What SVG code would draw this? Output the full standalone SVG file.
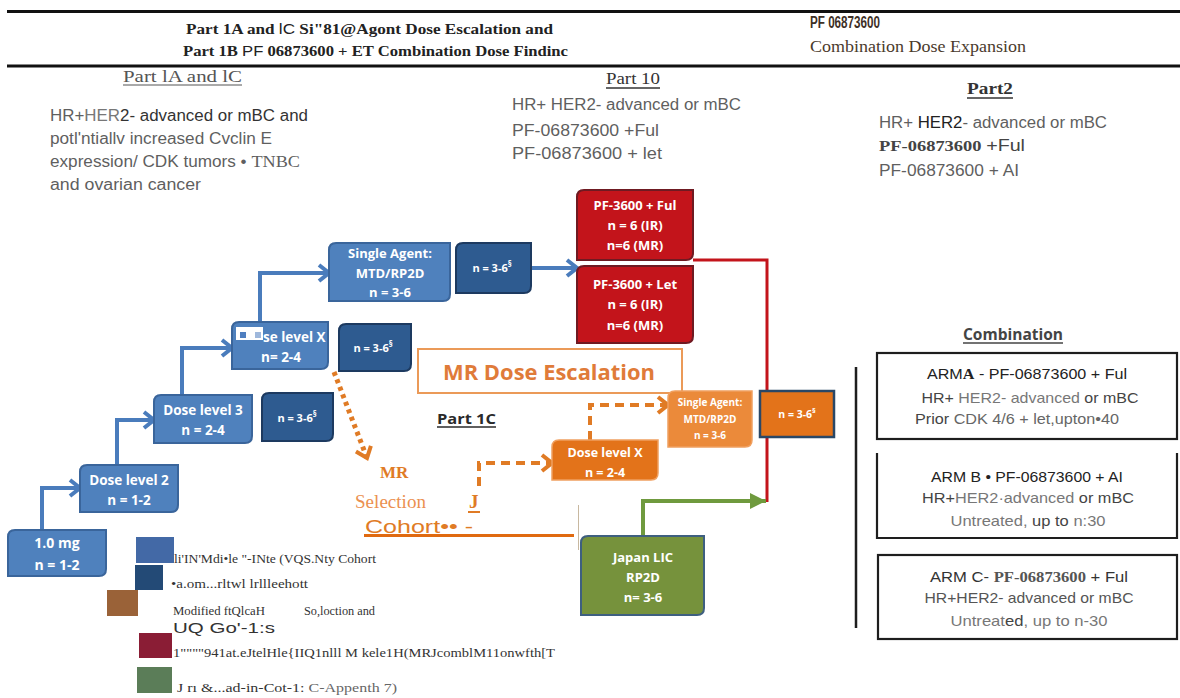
<svg xmlns="http://www.w3.org/2000/svg" width="1180" height="698" viewBox="0 0 1180 698">
<style>
.serifB{font-family:"Liberation Serif",serif;font-weight:bold;}
.serif{font-family:"Liberation Serif",serif;}
.sans{font-family:"Liberation Sans",Arial,sans-serif;}
.gray{fill:#5f5f5f;font-size:16px;font-family:"Liberation Sans",Arial,sans-serif;}
.bx{font-family:"Open Sans","Liberation Sans",sans-serif;font-weight:bold;fill:#fff;text-anchor:middle;}
.lb{fill:#4f81bd;stroke:#3a659b;stroke-width:2;}
.db{fill:#2e5b90;stroke:#1d3a60;stroke-width:2;}
.rd{fill:#c3141b;stroke:#6f1a22;stroke-width:2;}
.or{fill:#e3731a;stroke:#f0a060;stroke-width:1.5;}
.arm{fill:none;stroke:#1e1e1e;stroke-width:2.2;}
.armt{font-family:"Liberation Sans",Arial,sans-serif;font-size:15px;text-anchor:middle;}
.leg{font-family:"Liberation Serif",serif;font-size:13px;fill:#333;}
</style>
<defs>
<marker id="aB" markerUnits="userSpaceOnUse" markerWidth="16" markerHeight="20" refX="13" refY="10" orient="auto">
<path d="M3,2 L13,10 L3,18" fill="none" stroke="#4a7cbc" stroke-width="4"/>
</marker>
<marker id="aO" markerUnits="userSpaceOnUse" markerWidth="16" markerHeight="20" refX="13" refY="10" orient="auto">
<path d="M3,2 L13,10 L3,18" fill="none" stroke="#e07b25" stroke-width="4"/>
</marker>
<marker id="aG" markerUnits="userSpaceOnUse" markerWidth="18" markerHeight="18" refX="16" refY="9" orient="auto">
<path d="M0,1 L16,9 L0,17 Z" fill="#6f9a3e"/>
</marker>
</defs>
<rect width="1180" height="698" fill="#fff"/>

<g id="header">
<line x1="7" y1="11.5" x2="1180" y2="11.5" stroke="#111" stroke-width="3"/>
<line x1="7" y1="66" x2="1180" y2="66" stroke="#111" stroke-width="3"/>
<text class="serifB" x="186" y="34" font-size="14.5" fill="#222" textLength="367" lengthAdjust="spacingAndGlyphs">Part 1A and <tspan class="sans" font-weight="normal">lC</tspan> Si"81@Agont Dose Escalation and</text>
<text class="serifB" x="183" y="56" font-size="14.5" fill="#222" textLength="385" lengthAdjust="spacingAndGlyphs">Part 1B <tspan class="sans" font-weight="normal">PF</tspan> 06873600 + ET Combination Dose Findinc</text>
<text class="sans" x="810" y="28" font-size="16" font-weight="bold" fill="#3e3026" textLength="70" lengthAdjust="spacingAndGlyphs">PF 06873600</text>
<text class="serif" x="810" y="52" font-size="16" fill="#4a3a2c" textLength="216" lengthAdjust="spacingAndGlyphs">Combination Dose Expansion</text>
</g>

<g id="part1A-text">
<text class="serif" x="123" y="82" font-size="16" fill="#555" textLength="119" lengthAdjust="spacingAndGlyphs">Part lA and lC</text>
<line x1="123" y1="85" x2="242" y2="85" stroke="#555" stroke-width="1.2"/>
<text class="gray" x="50" y="121" textLength="258" lengthAdjust="spacingAndGlyphs">HR+<tspan fill="#777">HER</tspan><tspan fill="#333">2- advanced or mBC and</tspan></text>
<text class="gray" x="50" y="144" textLength="222" lengthAdjust="spacingAndGlyphs">potl'ntiallv increased Cvclin E</text>
<text class="gray" x="50" y="167" textLength="250" lengthAdjust="spacingAndGlyphs">expression/  CDK tumors • <tspan class="serif" font-size="17">TNBC</tspan></text>
<text class="gray" x="50" y="190" textLength="151" lengthAdjust="spacingAndGlyphs">and ovarian cancer</text>
</g>

<g id="part1D-text">
<text class="serif" x="606" y="84" font-size="16" fill="#333" textLength="54" lengthAdjust="spacingAndGlyphs">Part  10</text>
<line x1="606" y1="88" x2="660" y2="88" stroke="#333" stroke-width="1.5"/>
<text class="gray" x="512" y="110" textLength="229" lengthAdjust="spacingAndGlyphs">HR+ HER2- advanced or mBC</text>
<text class="gray" x="512" y="136" textLength="147" lengthAdjust="spacingAndGlyphs">PF-06873600 +Ful</text>
<text class="gray" x="512" y="159" textLength="150" lengthAdjust="spacingAndGlyphs" fill="#777">PF-06873600 + let</text>
</g>

<g id="part2-text">
<text class="serifB" x="967" y="94" font-size="17" fill="#333" textLength="46" lengthAdjust="spacingAndGlyphs">Part2</text>
<line x1="967" y1="98" x2="1013" y2="98" stroke="#333" stroke-width="1.5"/>
<text class="gray" x="879" y="128" textLength="228" lengthAdjust="spacingAndGlyphs">HR+ <tspan fill="#222">HER2</tspan>- advanced or mBC</text>
<text x="879" y="151" font-size="16" fill="#444" textLength="146" lengthAdjust="spacingAndGlyphs"><tspan class="serifB" font-size="15">PF-06873600 </tspan><tspan class="sans">+Ful</tspan></text>
<text class="gray" x="879" y="176" textLength="140" lengthAdjust="spacingAndGlyphs" fill="#444">PF-06873600 + AI</text>
</g>

<g id="connectors" fill="none">
<path d="M42,530 V488 H80" stroke="#4a7cbc" stroke-width="4" marker-end="url(#aB)"/>
<path d="M117,465 V420 H154" stroke="#4a7cbc" stroke-width="4" marker-end="url(#aB)"/>
<path d="M182,395 V348 H232" stroke="#4a7cbc" stroke-width="4" marker-end="url(#aB)"/>
<path d="M260,322 V273 H329" stroke="#4a7cbc" stroke-width="4" marker-end="url(#aB)"/>
<path d="M531,268 H577" stroke="#4a7cbc" stroke-width="4" marker-end="url(#aB)"/>
<path d="M693,260 H767 V502" stroke="#c3141b" stroke-width="3"/>
<path d="M643,536 V501 H766" stroke="#6f9a3e" stroke-width="4" marker-end="url(#aG)"/>
<path d="M334,372 L367,458" stroke="#e07b25" stroke-width="5" stroke-dasharray="4 4" marker-end="url(#aO)"/>
<path d="M479,486 V463 H552" stroke="#e07b25" stroke-width="4" stroke-dasharray="9 6" marker-end="url(#aO)"/>
<path d="M590,440 V405 H668" stroke="#e07b25" stroke-width="4" stroke-dasharray="9 6" marker-end="url(#aO)"/>
</g>

<g id="n-1mg">
<path class="lb" d="M15,530 H106 V569 Q106,576 99,576 H8 V537 Q8,530 15,530Z"/>
<text class="bx" x="57" y="548" font-size="14">1.0 mg</text>
<text class="bx" x="57" y="570" font-size="14">n = 1-2</text>
</g>
<g id="n-dl2">
<path class="lb" d="M87,465 H178 V505 Q178,512 171,512 H80 V472 Q80,465 87,465Z"/>
<text class="bx" x="129" y="485" font-size="13.5">Dose level 2</text>
<text class="bx" x="129" y="505" font-size="13.5">n = 1-2</text>
</g>
<g id="n-dl3">
<path class="lb" d="M161,395 H252 V436 Q252,443 245,443 H154 V402 Q154,395 161,395Z"/>
<text class="bx" x="203" y="415" font-size="13.5">Dose level 3</text>
<text class="bx" x="203" y="435" font-size="13.5">n = 2-4</text>
</g>
<g id="n-dl3-n">
<path class="db" d="M269,393 H333 V434 Q333,441 326,441 H262 V400 Q262,393 269,393Z"/>
<text class="bx" x="297" y="422" font-size="11">n = 3-6<tspan font-size="8" dy="-5">§</tspan></text>
</g>
<g id="n-dlx">
<path class="lb" d="M239,322 H328 V362 Q328,369 321,369 H232 V329 Q232,322 239,322Z"/>
<rect x="236" y="327" width="27" height="13" fill="#fff"/>
<rect x="240" y="332" width="6" height="6" fill="#4f7fc0"/>
<rect x="255" y="332" width="6" height="6" fill="#9fb8dc"/>
<text class="bx" x="263" y="342" font-size="13.5" style="text-anchor:start">se level X</text>
<text class="bx" x="281" y="362" font-size="13.5">n= 2-4</text>
</g>
<g id="n-dlx-n">
<path class="db" d="M346,324 H411 V364 Q411,371 404,371 H339 V331 Q339,324 346,324Z"/>
<text class="bx" x="373" y="352" font-size="11">n = 3-6<tspan font-size="8" dy="-5">§</tspan></text>
</g>
<g id="n-sa">
<path class="lb" d="M336,243 H450 V294 Q450,301 443,301 H329 V250 Q329,243 336,243Z"/>
<text class="bx" x="390" y="258" font-size="13">Single Agent:</text>
<text class="bx" x="390" y="278" font-size="13">MTD/RP2D</text>
<text class="bx" x="390" y="297" font-size="13">n = 3-6</text>
</g>
<g id="n-sa-n">
<path class="db" d="M463,243 H531 V286 Q531,293 524,293 H456 V250 Q456,243 463,243Z"/>
<text class="bx" x="492" y="272" font-size="11">n = 3-6<tspan font-size="8" dy="-5">§</tspan></text>
</g>
<g id="n-ful">
<path class="rd" d="M584,190 H693 V253 Q693,260 686,260 H577 V197 Q577,190 584,190Z"/>
<text class="bx" x="635" y="210" font-size="13">PF-3600 + Ful</text>
<text class="bx" x="635" y="230" font-size="13">n = 6 (IR)</text>
<text class="bx" x="635" y="250" font-size="13">n=6 (MR)</text>
</g>
<g id="n-let">
<path class="rd" d="M584,266 H693 V336 Q693,343 686,343 H577 V273 Q577,266 584,266Z"/>
<text class="bx" x="635" y="289" font-size="13">PF-3600 + Let</text>
<text class="bx" x="635" y="309" font-size="13">n = 6 (IR)</text>
<text class="bx" x="635" y="330" font-size="13">n=6 (MR)</text>
</g>
<g id="n-mr-esc">
<rect x="418" y="349" width="264" height="44" fill="#fff" stroke="#eb9a58" stroke-width="2"/>
<text x="549" y="380" font-family="Open Sans,Liberation Sans,sans-serif" font-weight="bold" font-size="22" fill="#e07b39" text-anchor="middle" textLength="212" lengthAdjust="spacingAndGlyphs">MR Dose Escalation</text>
</g>
<g id="n-part1c">
<text x="437" y="424" font-family="Open Sans,Liberation Sans,sans-serif" font-weight="bold" font-size="15" fill="#2a2a2a" textLength="59" lengthAdjust="spacingAndGlyphs">Part 1C</text>
<line x1="437" y1="427" x2="496" y2="427" stroke="#2a2a2a" stroke-width="1.5"/>
</g>
<g id="n-mr-sel">
<text class="serifB" x="380" y="478" font-size="17" fill="#e07b25">MR</text>
<text class="serif" x="355" y="508" font-size="18" fill="#eb9050" textLength="71" lengthAdjust="spacingAndGlyphs">Selection</text>
<text class="sans" x="365" y="533" font-size="19" fill="#e07b25" textLength="108" lengthAdjust="spacingAndGlyphs">Cohort•• -</text>
<line x1="364" y1="535.5" x2="574" y2="535.5" stroke="#e06a10" stroke-width="3"/>
<text class="serifB" x="469" y="508" font-size="19" fill="#e07b25">J</text>
<line x1="468" y1="512" x2="480" y2="512" stroke="#e07b25" stroke-width="2"/>
<line x1="578.5" y1="505" x2="578.5" y2="550" stroke="#c8b8a0" stroke-width="1"/>
</g>
<g id="n-or-dlx">
<path class="or" d="M559,440 H658 V473 Q658,480 651,480 H552 V447 Q552,440 559,440Z"/>
<text class="bx" x="605" y="457" font-size="12.5">Dose level X</text>
<text class="bx" x="605" y="477" font-size="12.5">n = 2-4</text>
</g>
<g id="n-or-sa">
<path class="or" d="M675,391 H752 V440 Q752,447 745,447 H668 V398 Q668,391 675,391Z" style="fill:#eb8a3a"/>
<text class="bx" x="710" y="406" font-size="10">Single Agent:</text>
<text class="bx" x="710" y="423" font-size="10">MTD/RP2D</text>
<text class="bx" x="710" y="439" font-size="10">n = 3-6</text>
</g>
<g id="n-or-n">
<rect x="760" y="391" width="74" height="46" fill="#e3731a" stroke="#2a4766" stroke-width="2.5"/>
<text class="bx" x="797" y="418" font-size="10.5">n = 3-6<tspan font-size="7.5" dy="-5">§</tspan></text>
</g>
<g id="n-japan">
<path d="M588,536 H704 V608 Q704,615 697,615 H581 V543 Q581,536 588,536Z" fill="#76923c" stroke="#3e5f80" stroke-width="2"/>
<text class="bx" x="643" y="562" font-size="13">Japan LIC</text>
<text class="bx" x="643" y="582" font-size="13">RP2D</text>
<text class="bx" x="643" y="602" font-size="13">n= 3-6</text>
</g>

<g id="combination">
<text x="963" y="340" font-family="Open Sans,Liberation Sans,sans-serif" font-weight="bold" font-size="16" fill="#444" textLength="100" lengthAdjust="spacingAndGlyphs">Combination</text>
<line x1="963" y1="343" x2="1063" y2="343" stroke="#444" stroke-width="1.5"/>
<line x1="856" y1="367" x2="856" y2="628" stroke="#1e1e1e" stroke-width="2.5"/>
</g>
<g id="n-arm-a">
<rect class="arm" x="877" y="353" width="300" height="86"/>
<text class="armt" x="1027" y="379" fill="#222" textLength="200" lengthAdjust="spacingAndGlyphs">ARM<tspan class="serifB">A</tspan> - PF-06873600  + Ful</text>
<text class="armt" x="1030" y="403" fill="#444" textLength="217" lengthAdjust="spacingAndGlyphs">HR+ <tspan fill="#777">HER2- advanced</tspan> or mBC</text>
<text class="armt" x="1017" y="424" fill="#444" textLength="204" lengthAdjust="spacingAndGlyphs">Prior <tspan fill="#666">CDK 4/6  + let,upton•40</tspan></text>
</g>
<g id="n-arm-b">
<path class="arm" d="M877,453 V538 H1177 V453"/>
<text class="armt" x="1027" y="482" fill="#222" textLength="192" lengthAdjust="spacingAndGlyphs">ARM B • PF-06873600 + AI</text>
<text class="armt" x="1028" y="503" fill="#444" textLength="212" lengthAdjust="spacingAndGlyphs">HR+<tspan fill="#777">HER2·advanced</tspan> or mBC</text>
<text class="armt" x="1028" y="526" fill="#777" textLength="155" lengthAdjust="spacingAndGlyphs">Untreated, <tspan fill="#444">up to</tspan> n:30</text>
</g>
<g id="n-arm-c">
<rect class="arm" x="878" y="555" width="299" height="84"/>
<text class="armt" x="1029" y="582" fill="#333" textLength="198" lengthAdjust="spacingAndGlyphs">ARM C-  <tspan class="serifB" fill="#555">PF-06873600</tspan> + Ful</text>
<text class="armt" x="1029" y="603" fill="#555" textLength="209" lengthAdjust="spacingAndGlyphs">HR+HER2-  advanced or mBC</text>
<text class="armt" x="1029" y="626" fill="#777" textLength="157" lengthAdjust="spacingAndGlyphs">Untreat<tspan fill="#444">ed</tspan>, up  to  n-30</text>
</g>

<g id="legend">
<rect x="136" y="537" width="38" height="26" fill="#4369a6"/>
<text class="leg" x="174" y="563" textLength="202" lengthAdjust="spacingAndGlyphs">li'IN'Mdi•le "-INte (VQS.Nty Cohort</text>
<rect x="135" y="565" width="28" height="25" fill="#234a76"/>
<text class="leg" x="171" y="588" textLength="137" lengthAdjust="spacingAndGlyphs">•a.om...rltwl lrllleehott</text>
<rect x="107" y="590" width="31" height="26" fill="#9a6238"/>
<text class="leg" x="173" y="615" textLength="92" lengthAdjust="spacingAndGlyphs">Modified ftQlcaH</text>
<text class="leg" x="304" y="615" textLength="71" lengthAdjust="spacingAndGlyphs">So,loction and</text>
<text class="sans" x="173" y="633" font-size="14" fill="#333" textLength="102" lengthAdjust="spacingAndGlyphs">UQ Go'-1:s</text>
<rect x="139" y="633" width="33" height="25" fill="#8a1d35"/>
<text class="leg" x="173" y="657" textLength="382" lengthAdjust="spacingAndGlyphs">1""""941at.eJtelHle{IIQ1nlll M kele1H(MRJcomblM11onwfth[T</text>
<rect x="137" y="667" width="35" height="26" fill="#5b7d58"/>
<text class="leg" x="177" y="692" textLength="220" lengthAdjust="spacingAndGlyphs">J rı &amp;...ad-in-Cot-1:  <tspan fill="#666">C-Appenth  7)</tspan></text>
</g>
</svg>
